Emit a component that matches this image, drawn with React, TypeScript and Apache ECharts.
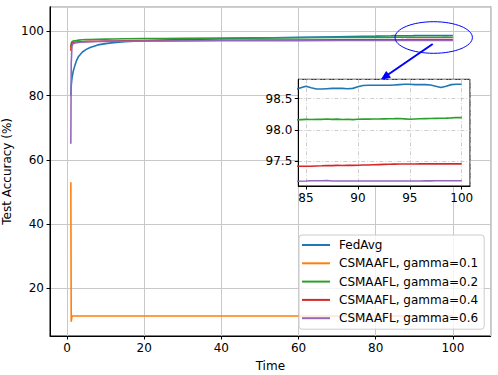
import React, { useEffect, useRef } from "react";
import * as echarts from "echarts";

const SERIES_NAMES = [
  "FedAvg",
  "CSMAAFL, gamma=0.1",
  "CSMAAFL, gamma=0.2",
  "CSMAAFL, gamma=0.4",
  "CSMAAFL, gamma=0.6",
];
const COLORS = ["#1f77b4", "#ff7f0e", "#2ca02c", "#d62728", "#9467bd"];

const TIME = [
  1, 1.1, 1.3, 1.6, 2, 2.5, 3, 4, 5, 6, 8, 10, 12, 15, 20, 25, 30, 40, 50, 60, 70, 80, 84,
  85, 85.5, 86, 86.5, 87, 87.5, 88, 88.5, 89, 89.5, 90, 90.5, 91, 91.5, 92, 92.5, 93, 93.5,
  94, 94.5, 95, 95.5, 96, 96.5, 97, 97.5, 98, 98.5, 99, 99.5, 100,
];

const FEDAVG = [
  80, 83, 85.5, 87.5, 89.2, 91, 92.2, 93.6, 94.4, 95, 95.8, 96.2, 96.5, 96.8, 97.1, 97.3, 97.45, 97.7, 97.95, 98.15, 98.35, 98.55, 98.65,
  98.7, 98.675, 98.655, 98.655, 98.66, 98.665, 98.665, 98.665, 98.66, 98.665, 98.69, 98.71, 98.715, 98.715, 98.715, 98.715,
  98.715, 98.72, 98.725, 98.73, 98.73, 98.725, 98.725, 98.725, 98.72, 98.7, 98.68, 98.7, 98.725, 98.73, 98.73,
];

const GAMMA_01 = [
  53, 9.6, 11.4, 11.4, 11.4, 11.4, 11.4, 11.4, 11.4, 11.4, 11.4, 11.4, 11.4, 11.4, 11.4, 11.4, 11.4, 11.4, 11.4, 11.4, 11.4, 11.4, 11.4,
  11.4, 11.4, 11.4, 11.4, 11.4, 11.4, 11.4, 11.4, 11.4, 11.4, 11.4, 11.4, 11.4, 11.4, 11.4, 11.4,
  11.4, 11.4, 11.4, 11.4, 11.4, 11.4, 11.4, 11.4, 11.4, 11.4, 11.4, 11.4, 11.4, 11.4, 11.4,
];

const GAMMA_02 = [
  95, 96.3, 96.8, 97.0, 97.1, 97.2, 97.3, 97.4, 97.45, 97.5, 97.55, 97.6, 97.65, 97.7, 97.75, 97.8, 97.85, 97.95, 98.0, 98.05, 98.1, 98.15, 98.16,
  98.17, 98.168, 98.172, 98.169, 98.175, 98.17, 98.173, 98.168, 98.171, 98.166, 98.172, 98.174, 98.173, 98.176, 98.175, 98.178,
  98.18, 98.181, 98.183, 98.178, 98.172, 98.176, 98.18, 98.182, 98.184, 98.186, 98.188, 98.19, 98.194, 98.2, 98.198,
];

const GAMMA_04 = [
  94, 95.5, 96.2, 96.5, 96.6, 96.7, 96.75, 96.8, 96.85, 96.9, 96.95, 97.0, 97.02, 97.05, 97.1, 97.15, 97.2, 97.25, 97.3, 97.33, 97.37, 97.4, 97.42,
  97.42, 97.42, 97.425, 97.428, 97.432, 97.43, 97.435, 97.433, 97.437, 97.435, 97.436, 97.44, 97.441, 97.444, 97.447, 97.45,
  97.452, 97.455, 97.456, 97.456, 97.457, 97.457, 97.458, 97.458, 97.458, 97.458, 97.459, 97.459, 97.459, 97.459, 97.459,
];

const GAMMA_06 = [
  65, 90, 95.5, 96.2, 96.4, 96.5, 96.6, 96.7, 96.75, 96.8, 96.85, 96.9, 96.92, 96.95, 97.0, 97.03, 97.05, 97.1, 97.12, 97.15, 97.17, 97.18, 97.18,
  97.185, 97.19, 97.19, 97.188, 97.192, 97.186, 97.184, 97.184, 97.184, 97.185, 97.185, 97.185, 97.185, 97.186, 97.186, 97.186,
  97.186, 97.186, 97.186, 97.186, 97.186, 97.186, 97.186, 97.187, 97.187, 97.19, 97.19, 97.19, 97.189, 97.188, 97.188,
];

const ALL = [FEDAVG, GAMMA_01, GAMMA_02, GAMMA_04, GAMMA_06];

const FONT = "DejaVu Sans";

export default function App() {
  const ref = useRef<HTMLDivElement>(null);
  useEffect(() => {
    if (!ref.current) return;
    const chart = echarts.init(ref.current, undefined, { renderer: "svg" });
    const pairs = (vals: number[]) => TIME.map((t, i) => [t, vals[i]]);
    const mainSeries = ALL.map((vals, i) => ({
      name: SERIES_NAMES[i],
      type: "line",
      xAxisIndex: 0,
      yAxisIndex: 0,
      data: pairs(vals),
      symbol: "none",
      showSymbol: false,
      z: 2,
      lineStyle: { color: COLORS[i], width: 1.6 },
      itemStyle: { color: COLORS[i] },
    }));
    const insetSeries = ALL.map((vals, i) => ({
      name: SERIES_NAMES[i],
      type: "line",
      xAxisIndex: 1,
      yAxisIndex: 1,
      data: pairs(vals),
      symbol: "none",
      showSymbol: false,
      clip: true,
      z: 5,
      lineStyle: { color: COLORS[i], width: 1.6 },
      itemStyle: { color: COLORS[i] },
    })).filter((_, i) => i !== 1);

    const labelStyle = { color: "#000", fontFamily: FONT, fontSize: 12 };
    const axisLine = { show: true, onZero: false, lineStyle: { color: "#000", width: 1 } };
    const axisTick = { show: true, length: 3.5, lineStyle: { color: "#000", width: 1 } };

    chart.setOption({
      animation: false,
      textStyle: { fontFamily: FONT },
      grid: [
        { left: 50, top: 6.7, right: 7.3, bottom: 39, containLabel: false, outerBoundsMode: "none", show: true, borderColor: "#000", borderWidth: 1, backgroundColor: "transparent", z: 0 },
        { left: 298.3, top: 79.3, width: 171.7, height: 106.7, containLabel: false, outerBoundsMode: "none", show: true, borderColor: "#000", borderWidth: 1, backgroundColor: "#fff", z: 3 },
      ],
      xAxis: [
        {
          type: "value", gridIndex: 0, min: -4.4, max: 109.8, splitNumber: 5, z: 0,
          name: "Time", nameLocation: "middle", nameGap: 24, nameMoveOverlap: false,
          nameTextStyle: { ...labelStyle },
          axisLine, axisTick,
          axisLabel: { ...labelStyle, margin: 6, showMinLabel: false, showMaxLabel: false },
          splitLine: { show: true, lineStyle: { color: "#c8c8c8", width: 1 } },
        },
        {
          type: "value", gridIndex: 1, min: 84.26, max: 100.8, splitNumber: 3, z: 4,
          axisLine, axisTick,
          axisLabel: { ...labelStyle, margin: 6, showMinLabel: false, showMaxLabel: false },
          splitLine: { show: true, lineStyle: { color: "#c0c0c0", width: 0.8, type: [4, 2, 1, 2] } },
        },
      ],
      yAxis: [
        {
          type: "value", gridIndex: 0, min: 5.15, max: 107.7, splitNumber: 5, z: 0,
          name: "Test Accuracy (%)", nameLocation: "middle", nameGap: 37, nameMoveOverlap: false,
          nameTextStyle: { ...labelStyle },
          axisLine, axisTick,
          axisLabel: { ...labelStyle, margin: 6, showMinLabel: false, showMaxLabel: false },
          splitLine: { show: true, lineStyle: { color: "#c8c8c8", width: 1 } },
        },
        {
          type: "value", gridIndex: 1, min: 97.105, max: 98.81, splitNumber: 3, z: 4,
          axisLine, axisTick,
          axisLabel: { ...labelStyle, margin: 6, showMinLabel: false, showMaxLabel: false, formatter: (v: number) => v.toFixed(1) },
          splitLine: { show: true, lineStyle: { color: "#c0c0c0", width: 0.8, type: [4, 2, 1, 2] } },
        },
      ],
      legend: {
        data: SERIES_NAMES,
        orient: "vertical",
        left: 299,
        top: 235,
        padding: [3, 6, 4, 3],
        itemGap: 4.3,
        itemWidth: 28,
        itemHeight: 2,
        icon: "rect",
        backgroundColor: "rgba(255,255,255,0.8)",
        borderColor: "#cccccc",
        borderWidth: 1,
        borderRadius: 3,
        z: 6,
        textStyle: { ...labelStyle, lineHeight: 14, padding: [0, 0, 0, 4] },
      },
      graphic: [
        {
          type: "ellipse", z: 10,
          shape: { cx: 433.7, cy: 37.5, rx: 38.7, ry: 15.8 },
          style: { fill: "none", stroke: "#0000ff", lineWidth: 1 },
        },
        {
          type: "line", z: 10,
          shape: { x1: 432.7, y1: 44, x2: 386, y2: 76 },
          style: { stroke: "#0000ff", lineWidth: 2 },
        },
        {
          type: "polygon", z: 10,
          shape: { points: [[381.7, 79], [390.3, 77.4], [386.3, 71.6]] },
          style: { fill: "#0000ff", stroke: "#0000ff", lineWidth: 1 },
        },
      ],
      series: [...mainSeries, ...insetSeries],
    });
    return () => chart.dispose();
  }, []);
  return (
    <div
      ref={ref}
      style={{ position: "absolute", left: 0, top: 0, width: 498, height: 375 }}
    />
  );
}
